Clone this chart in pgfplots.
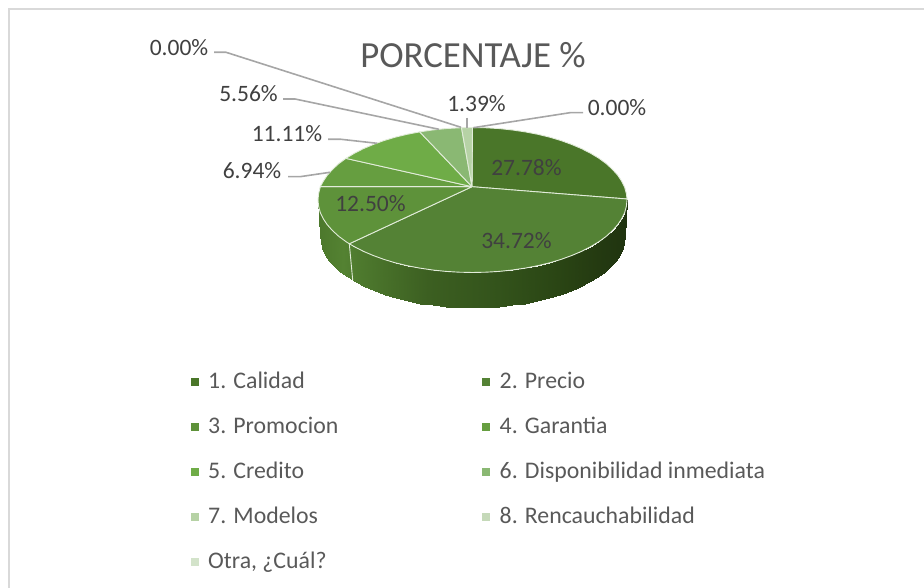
\documentclass[border=0pt]{standalone}
\usepackage{fontspec}
\setmainfont{Carlito}
\usepackage{pgfplots}
\pgfplotsset{compat=1.18}
\usepackage{xcolor}

\definecolor{s1}{RGB}{74,118,41}
\definecolor{s2}{RGB}{84,130,53}
\definecolor{s3}{RGB}{94,146,58}
\definecolor{s4}{RGB}{102,158,64}
\definecolor{s5}{RGB}{111,172,71}
\definecolor{s6}{RGB}{138,184,115}
\definecolor{s7}{RGB}{182,210,165}
\definecolor{s8}{RGB}{197,217,185}
\definecolor{s9}{RGB}{211,227,202}
\definecolor{edge}{RGB}{226,236,218}
\definecolor{leader}{RGB}{166,166,166}
\definecolor{labeltxt}{RGB}{64,64,64}
\definecolor{greytxt}{RGB}{89,89,89}
\definecolor{frame}{RGB}{217,217,217}

\pgfplotsset{
  colormap={wallmap}{
    rgb255(0pt)=(76,120,44);
    rgb255(25pt)=(84,130,50);
    rgb255(40pt)=(78,122,46);
    rgb255(110pt)=(60,95,33);
    rgb255(180pt)=(51,83,27);
    rgb255(240pt)=(42,69,20);
    rgb255(280pt)=(36,58,17);
    rgb255(309pt)=(32,52,16)
  },
  slice/.style={fill=#1,draw=edge,line width=0.9pt,line join=round},
  lead/.style={leader,line width=1.6pt,forget plot},
}

\newcommand{\lab}{\fontsize{23.5}{26}\selectfont}

\begin{document}
\begin{tikzpicture}
\begin{axis}[
  scale only axis, width=924pt, height=588pt,
  xmin=0, xmax=924, ymin=0, ymax=588,
  hide axis, clip=true,
  legend columns=2,
  legend cell align=left,
  legend style={
    at={(axis cs:190.5,216)}, anchor=north west,
    draw=none, fill=none, inner sep=0pt, row sep=23pt,
    font=\fontsize{23.8}{26}\selectfont, text=greytxt,
    nodes={inner sep=0pt, text height=16pt, text depth=6pt},
    /tikz/every odd column/.append style={column sep=9.5pt},
  },
  legend image code/.code={\fill[#1,draw=none] (4.5pt,-3pt) rectangle (12.5pt,5pt);},
]
% keeps the page at the whole picture
\addplot[draw=none,forget plot] coordinates {(0,0)(924,588)};
% outer frame, open to the right and the bottom
\addplot[frame,line width=2pt,forget plot] coordinates {(9,0)(9,579)(924,579)};

% side wall of the pie
\addplot[surf,shader=interp,mesh/rows=2,point meta=x,colormap name=wallmap,
  point meta min=318,point meta max=627,forget plot] table {
x y
627.0 388.0
626.4 381.7
624.7 375.4
621.7 369.2
617.7 363.2
612.5 357.4
606.3 351.7
599.1 346.4
590.8 341.4
581.7 336.7
571.8 332.5
561.1 328.6
549.8 325.2
537.8 322.3
525.3 319.9
512.5 318.0
499.3 316.6
486.0 315.8
472.5 315.5
459.0 315.8
445.7 316.6
432.5 318.0
419.7 319.9
407.2 322.3
395.2 325.2
383.9 328.6
373.2 332.5
363.3 336.7
354.2 341.4
345.9 346.4
338.7 351.7
332.5 357.4
327.3 363.2
323.3 369.2
320.3 375.4
318.6 381.7
318.0 388.0
625.0 352.0
624.4 345.7
622.7 339.5
619.8 333.4
615.8 327.4
610.7 321.6
604.6 316.0
597.5 310.7
589.3 305.7
580.3 301.1
570.5 296.9
559.9 293.0
548.8 289.6
537.0 286.8
524.6 284.3
512.0 282.5
499.0 281.1
485.8 280.3
472.5 280.0
459.2 280.3
446.0 281.1
433.0 282.5
420.4 284.3
408.0 286.8
396.2 289.6
385.1 293.0
374.5 296.9
364.7 301.1
355.7 305.7
347.5 310.7
340.4 316.0
334.3 321.6
329.2 327.4
325.2 333.4
322.3 339.5
320.6 345.7
320.0 352.0
};
\addplot[edge,line width=0.9pt,forget plot] coordinates {(349.3,344.2)(352.7,308)};

% top face, one polygon for each slice
\addplot[slice=s1] coordinates {(472,401.3)(472.5,460.5)(486.0,460.2)(499.3,459.4)(512.5,458.0)
  (525.3,456.1)(537.8,453.7)(549.8,450.8)(561.1,447.4)(571.8,443.5)(581.7,439.3)(590.8,434.6)
  (599.1,429.6)(606.3,424.3)(612.5,418.6)(617.7,412.8)(621.7,406.8)(624.7,400.6)(626.4,394.3)
  (627,389)(472,401.3)};
\addlegendentry{\makebox[274pt][l]{1. Calidad}}
\addplot[slice=s2] coordinates {(472,401.3)(627,389)(627,388)(626.4,381.7)(624.7,375.4)(621.7,369.2)
  (617.7,363.2)(612.5,357.4)(606.3,351.7)(599.1,346.4)(590.8,341.4)(581.7,336.7)(571.8,332.5)
  (561.1,328.6)(549.8,325.2)(537.8,322.3)(525.3,319.9)(512.5,318.0)(499.3,316.6)(486.0,315.8)
  (472.5,315.5)(459.0,315.8)(445.7,316.6)(432.5,318.0)(419.7,319.9)(407.2,322.3)(395.2,325.2)
  (383.9,328.6)(373.2,332.5)(363.3,336.7)(354.2,341.4)(349.3,344.2)(472,401.3)};
\addlegendentry{2. Precio}
\addplot[slice=s3] coordinates {(472,401.3)(349.3,344.2)(345.9,346.4)(338.7,351.7)(332.5,357.4)
  (327.3,363.2)(323.3,369.2)(320.3,375.4)(318.6,381.7)(318,388)(318.6,394.3)(320.3,401.3)(472,401.3)};
\addlegendentry{\makebox[274pt][l]{3. Promocion}}
\addplot[slice=s4] coordinates {(472,401.3)(320.3,401.3)(323.3,406.8)(327.3,412.8)(332.5,418.6)
  (338.7,424.3)(345.9,429.6)(472,401.3)};
\addlegendentry{4. Garantia}
\addplot[slice=s5] coordinates {(472,401.3)(345.9,429.6)(354.2,434.6)(363.3,439.3)(373.2,443.5)
  (383.9,447.4)(395.2,450.8)(407.2,453.7)(419.7,456.1)(472,401.3)};
\addlegendentry{\makebox[274pt][l]{5. Credito}}
\addplot[slice=s6] coordinates {(472,401.3)(419.7,456.1)(432.5,458.0)(445.7,459.4)(461.5,460.3)(472,401.3)};
\addlegendentry{6. Disponibilidad inmediata}
\addplot[slice=s7] coordinates {(472,401.3)(461.5,460.3)(472.5,460.5)(472,401.3)};
\addlegendentry{\makebox[274pt][l]{7. Modelos}}
% the last two slices are 0.00 %
\addplot[fill=s8,draw=none] coordinates {(472.5,460.5)(472.5,460.5)};
\addlegendentry{8. Rencauchabilidad}
\addplot[fill=s9,draw=none] coordinates {(472.5,460.5)(472.5,460.5)};
\addlegendentry{\makebox[274pt][l]{Otra, ¿Cuál?}}

% leader lines
\addplot[lead] coordinates {(214,535.7)(226,535.7)(461,460.7)};
\addplot[lead] coordinates {(283,489)(295,489)(439,458.7)};
\addplot[lead] coordinates {(328,448.7)(341,448.7)(377,444.7)};
\addplot[lead] coordinates {(288,411.3)(300,411.3)(330,415.7)};
\addplot[lead] coordinates {(467,470.3)(467,460.3)};
\addplot[lead] coordinates {(583,475.3)(570,475.3)(473.3,460.3)};

% labels
\node[font=\fontsize{36.8}{40}\selectfont,text=greytxt] at (axis cs:473,533) {PORCENTAJE \%};
\node[font=\lab,text=labeltxt] at (axis cs:179,540) {0.00\%};
\node[font=\lab,text=labeltxt] at (axis cs:248.5,494) {5.56\%};
\node[font=\lab,text=labeltxt] at (axis cs:287,454) {11.11\%};
\node[font=\lab,text=labeltxt] at (axis cs:252,417) {6.94\%};
\node[font=\lab,text=labeltxt] at (axis cs:476.5,484) {1.39\%};
\node[font=\lab,text=labeltxt] at (axis cs:617,480) {0.00\%};
\node[font=\lab,text=labeltxt] at (axis cs:526.5,420) {27.78\%};
\node[font=\lab,text=labeltxt] at (axis cs:370.5,384) {12.50\%};
\node[font=\lab,text=labeltxt] at (axis cs:516.5,347) {34.72\%};
\end{axis}
\end{tikzpicture}
\end{document}
